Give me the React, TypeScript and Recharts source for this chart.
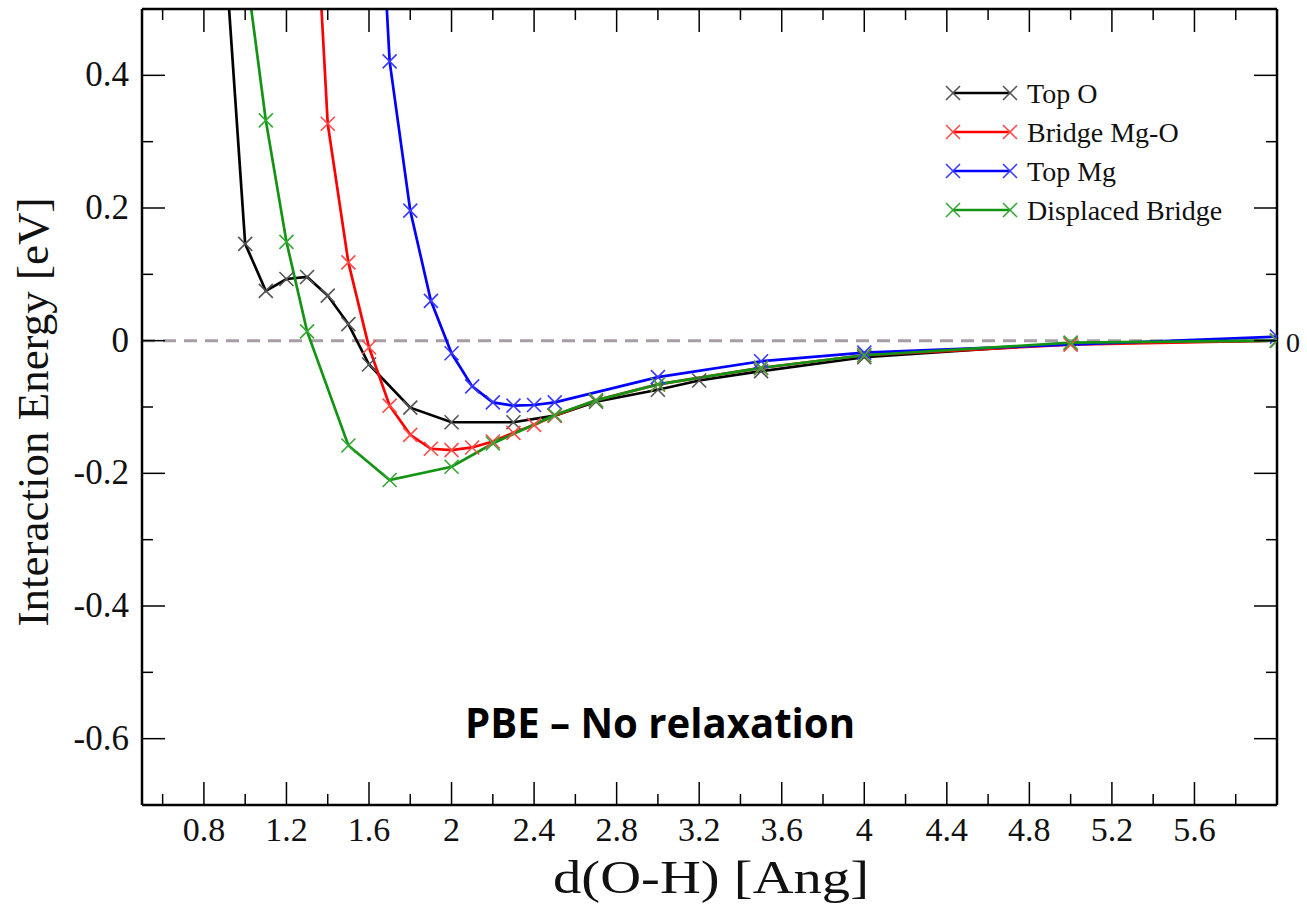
import React from 'react'
import { LineChart, Line, XAxis, YAxis, ReferenceLine } from 'recharts'

// Top O
const xTopO = [0.9, 1.0, 1.1, 1.2, 1.3, 1.4, 1.5, 1.6, 1.8, 2.0, 2.3, 2.5, 2.7, 3.0, 3.2, 3.5, 4.0, 5.0, 6.0]
const yTopO = [0.6, 0.146, 0.075, 0.093, 0.096, 0.068, 0.025, -0.036, -0.101, -0.123, -0.123, -0.113, -0.092, -0.074, -0.06, -0.046, -0.025, -0.004, 0.0]

// Bridge Mg-O
const xBridge = [1.3, 1.4, 1.5, 1.6, 1.7, 1.8, 1.9, 2.0, 2.1, 2.2, 2.3, 2.4, 2.5, 2.7, 3.0, 3.5, 4.0, 5.0, 6.0]
const yBridge = [0.9, 0.327, 0.118, -0.01, -0.098, -0.142, -0.163, -0.165, -0.161, -0.152, -0.139, -0.127, -0.113, -0.09, -0.066, -0.041, -0.022, -0.006, 0.0]

// Top Mg
const xTopMg = [1.6, 1.7, 1.8, 1.9, 2.0, 2.1, 2.2, 2.3, 2.4, 2.5, 3.0, 3.5, 4.0, 6.0]
const yTopMg = [1.0, 0.421, 0.196, 0.06, -0.019, -0.069, -0.093, -0.098, -0.097, -0.093, -0.055, -0.031, -0.018, 0.006]

// Displaced Bridge
const xDisp = [1.0, 1.1, 1.2, 1.3, 1.5, 1.7, 2.0, 2.2, 2.5, 2.7, 3.0, 3.5, 4.0, 5.0, 6.0]
const yDisp = [0.57, 0.332, 0.149, 0.014, -0.158, -0.21, -0.19, -0.155, -0.112, -0.09, -0.066, -0.041, -0.022, -0.003, 0.0]

const xTicks = [0.6, 0.8, 1.0, 1.2, 1.4, 1.6, 1.8, 2.0, 2.2, 2.4, 2.6, 2.8, 3.0, 3.2, 3.4, 3.6, 3.8, 4.0, 4.2, 4.4, 4.6, 4.8, 5.0, 5.2, 5.4, 5.6, 5.8]
const yTicks = [-0.6, -0.5, -0.4, -0.3, -0.2, -0.1, 0, 0.1, 0.2, 0.3, 0.4]

const SERIES = [
  { name: 'Top O', xs: xTopO, ys: yTopO, color: '#000000', mark: '#555555' },
  { name: 'Bridge Mg-O', xs: xBridge, ys: yBridge, color: '#ff0000', mark: '#ff4a4a' },
  { name: 'Top Mg', xs: xTopMg, ys: yTopMg, color: '#0000ff', mark: '#3a3aff' },
  { name: 'Displaced Bridge', xs: xDisp, ys: yDisp, color: '#149414', mark: '#34a834' },
]

const SERIF = '"Liberation Serif", "Times New Roman", serif'
const MAJOR = 23
const MINOR = 11

const isMajorX = (v: number) => Math.round(v * 10) % 4 === 0
const isMajorY = (v: number) => Math.round(v * 10) % 2 === 0
const fmt = (v: number) => String(Number(v.toFixed(1)))

const XMark = ({ cx, cy, color, s = 7 }: any) => (
  <g stroke={color} strokeWidth={1.6}>
    <line x1={cx - s} y1={cy - s} x2={cx + s} y2={cy + s} />
    <line x1={cx - s} y1={cy + s} x2={cx + s} y2={cy - s} />
  </g>
)

const makeTick = (side: 'bottom' | 'top' | 'left' | 'right') => (props: any) => {
  const { x, y, payload } = props
  const v = payload.value
  const major = side === 'bottom' || side === 'top' ? isMajorX(v) : isMajorY(v)
  const len = major ? MAJOR : MINOR
  if (side === 'bottom') {
    return (
      <g>
        <line x1={x} y1={y} x2={x} y2={y - len} stroke="#000" strokeWidth={1.5} />
        {major && (
          <text x={x} y={y + 36} textAnchor="middle" fontFamily={SERIF} fontSize={34} fill="#111">
            {fmt(v)}
          </text>
        )}
      </g>
    )
  }
  if (side === 'top') {
    return <line x1={x} y1={y} x2={x} y2={y + len} stroke="#000" strokeWidth={1.5} />
  }
  if (side === 'left') {
    return (
      <g>
        <line x1={x} y1={y} x2={x + len} y2={y} stroke="#000" strokeWidth={1.5} />
        {major && (
          <text x={x - 13} y={y + 11} textAnchor="end" fontFamily={SERIF} fontSize={35} fill="#111">
            {fmt(v)}
          </text>
        )}
      </g>
    )
  }
  return <line x1={x} y1={y} x2={x - len} y2={y} stroke="#000" strokeWidth={1.5} />
}

const legendRows = [93, 132, 171, 210]

export default function App() {
  return (
    <div style={{ position: 'absolute', left: 0, top: 0, width: 1307, height: 904, background: '#fff' }}>
      <LineChart width={1307} height={904} margin={{ top: 8, right: 29, bottom: 0, left: 0 }}>
        <XAxis
          xAxisId="b"
          type="number"
          dataKey="x"
          domain={[0.5, 6]}
          allowDataOverflow
          ticks={xTicks}
          interval={0}
          height={99}
          tickSize={0}
          tickMargin={0}
          tick={makeTick('bottom')}
          axisLine={{ stroke: '#000', strokeWidth: 2.5 }}
          tickLine={false}
        />
        <XAxis
          xAxisId="t"
          orientation="top"
          type="number"
          dataKey="x"
          domain={[0.5, 6]}
          allowDataOverflow
          ticks={xTicks}
          interval={0}
          height={1}
          tickSize={0}
          tickMargin={0}
          tick={makeTick('top')}
          axisLine={{ stroke: '#000', strokeWidth: 2.5 }}
          tickLine={false}
        />
        <YAxis
          yAxisId="l"
          type="number"
          domain={[-0.7, 0.5]}
          allowDataOverflow
          ticks={yTicks}
          interval={0}
          width={142}
          tickSize={0}
          tickMargin={0}
          tick={makeTick('left')}
          axisLine={{ stroke: '#000', strokeWidth: 2.5 }}
          tickLine={false}
        />
        <YAxis
          yAxisId="r"
          orientation="right"
          type="number"
          domain={[-0.7, 0.5]}
          allowDataOverflow
          ticks={yTicks}
          interval={0}
          width={1}
          tickSize={0}
          tickMargin={0}
          tick={makeTick('right')}
          axisLine={{ stroke: '#000', strokeWidth: 2.5 }}
          tickLine={false}
        />
        <ReferenceLine xAxisId="b" yAxisId="l" y={0} stroke="#a89ca6" strokeWidth={3} strokeDasharray="13 8" />
        {SERIES.map((s) => (
          <Line
            key={s.name}
            xAxisId="b"
            yAxisId="l"
            data={s.xs.map((x, i) => ({ x, y: s.ys[i] }))}
            dataKey="y"
            type="linear"
            stroke={s.color}
            strokeWidth={2.7}
            isAnimationActive={false}
            dot={(p: any) =>
              p.payload.y > 0.5 ? <g key={p.index} /> : <XMark key={p.index} cx={p.cx} cy={p.cy} color={s.mark} />
            }
            activeDot={false}
          />
        ))}
      </LineChart>
      <svg width={1307} height={904} style={{ position: 'absolute', left: 0, top: 0, pointerEvents: 'none' }}>
        <text transform="translate(48,412) rotate(-90)" textAnchor="middle" fontFamily={SERIF} fontSize={45} fill="#111">
          Interaction Energy [eV]
        </text>
        <text x={711} y={893} textAnchor="middle" fontFamily={SERIF} fontSize={47} textLength={316} lengthAdjust="spacingAndGlyphs" fill="#111">
          d(O-H) [Ang]
        </text>
        <text x={660} y={738} textAnchor="middle" fontFamily='"Open Sans", sans-serif' fontWeight={700} fontSize={42} textLength={390} lengthAdjust="spacingAndGlyphs" fill="#000">
          PBE – No relaxation
        </text>
        <text x={1286} y={352} fontFamily={SERIF} fontSize={28} fill="#111">0</text>
        {SERIES.map((s, i) => (
          <g key={s.name}>
            <line x1={953} y1={legendRows[i]} x2={1010} y2={legendRows[i]} stroke={s.color} strokeWidth={2.5} />
            <XMark cx={953} cy={legendRows[i]} color={s.mark} s={7} />
            <XMark cx={1010} cy={legendRows[i]} color={s.mark} s={7} />
            <text x={1027} y={legendRows[i] + 10} fontFamily={SERIF} fontSize={28} fill="#111">
              {s.name}
            </text>
          </g>
        ))}
      </svg>
    </div>
  )
}
